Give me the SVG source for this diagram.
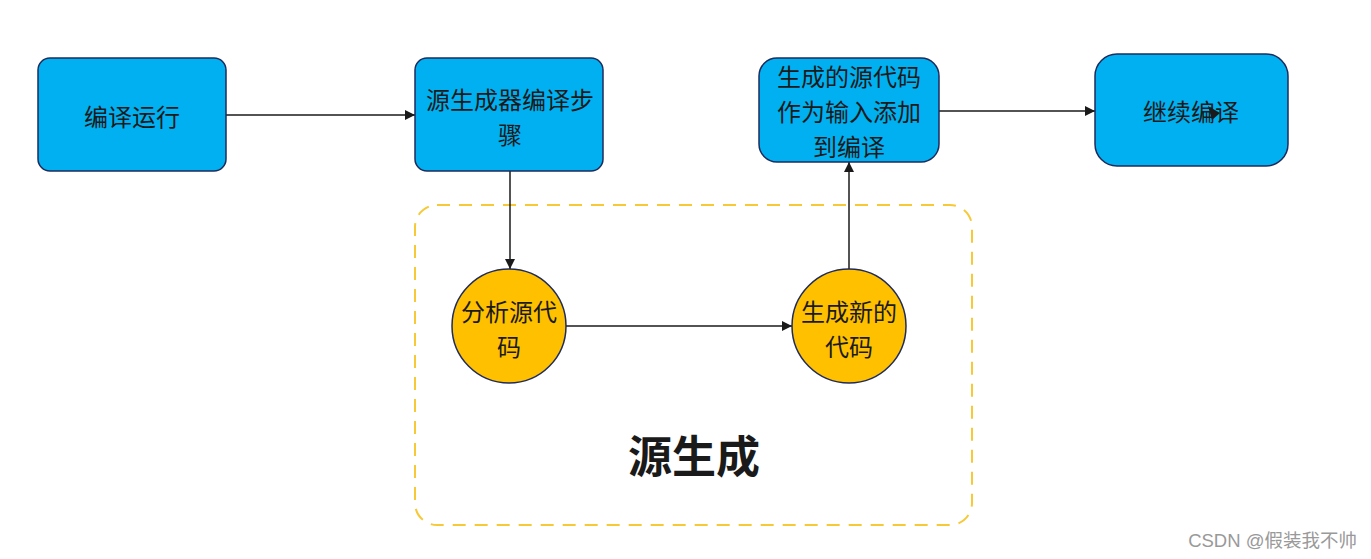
<svg xmlns="http://www.w3.org/2000/svg" width="1371" height="559" viewBox="0 0 1371 559">
<defs>
<marker id="ah" viewBox="0 0 10 10" refX="10" refY="5" markerWidth="10" markerHeight="10" markerUnits="userSpaceOnUse" orient="auto">
<path d="M0,0 L10,5 L0,10 z" fill="#1a1a1a"/>
</marker>
<style>
.box{fill:#00B0F0;stroke:#1f2b5c;stroke-width:1.5}
.circ{fill:#FFC000;stroke:#1f2b5c;stroke-width:1.5}
.t{font-family:"Noto Sans CJK SC","Noto Sans",sans-serif;font-size:24px;fill:#1a1a1a;text-anchor:middle}
.c{stroke:#1a1a1a;stroke-width:1.5;fill:none;marker-end:url(#ah)}
</style>
</defs>
<rect width="1371" height="559" fill="#ffffff"/>
<g id="group-source">
<rect x="415" y="205" width="557" height="320" rx="22" fill="none" stroke="#F7C936" stroke-width="2" stroke-dasharray="13 9"/>
<text x="694" y="473" font-family="Noto Sans CJK SC,sans-serif" font-size="44" font-weight="bold" fill="#1a1a1a" text-anchor="middle">源生成</text>
</g>
<g id="connectors">
<line class="c" x1="226" y1="115" x2="415" y2="115"/>
<line class="c" x1="510" y1="171" x2="510" y2="269"/>
<line class="c" x1="566" y1="326" x2="792" y2="326"/>
<line class="c" x1="849" y1="269" x2="849" y2="162"/>
<line class="c" x1="939" y1="111" x2="1095" y2="111"/>
</g>
<g id="n1">
<rect class="box" x="38" y="58" width="188" height="113" rx="12"/>
<text class="t" x="132" y="126">编译运行</text>
</g>
<g id="n2">
<rect class="box" x="415" y="58" width="188" height="113" rx="12"/>
<text class="t" x="510" y="109">源生成器编译步</text>
<text class="t" x="510" y="144">骤</text>
</g>
<g id="n3">
<rect class="box" x="759" y="58" width="180" height="104" rx="18"/>
<text class="t" x="849" y="86">生成的源代码</text>
<text class="t" x="849" y="121">作为输入添加</text>
<text class="t" x="849" y="156">到编译</text>
</g>
<g id="n4">
<rect class="box" x="1095" y="54" width="193" height="112" rx="22"/>
<text class="t" x="1191" y="121">继续编译</text>
<path d="M1208,106 L1220,113 L1212,120 z" fill="#1a1a1a"/>
</g>
<g id="n5">
<circle class="circ" cx="509" cy="326" r="57"/>
<text class="t" x="509" y="321">分析源代</text>
<text class="t" x="509" y="356">码</text>
</g>
<g id="n6">
<circle class="circ" cx="849" cy="326" r="57"/>
<text class="t" x="849" y="321">生成新的</text>
<text class="t" x="849" y="356">代码</text>
</g>
<text x="1357" y="547" font-family="Liberation Sans,Noto Sans CJK SC,sans-serif" font-size="18.5" fill="#999999" text-anchor="end">CSDN @假装我不帅</text>
</svg>
